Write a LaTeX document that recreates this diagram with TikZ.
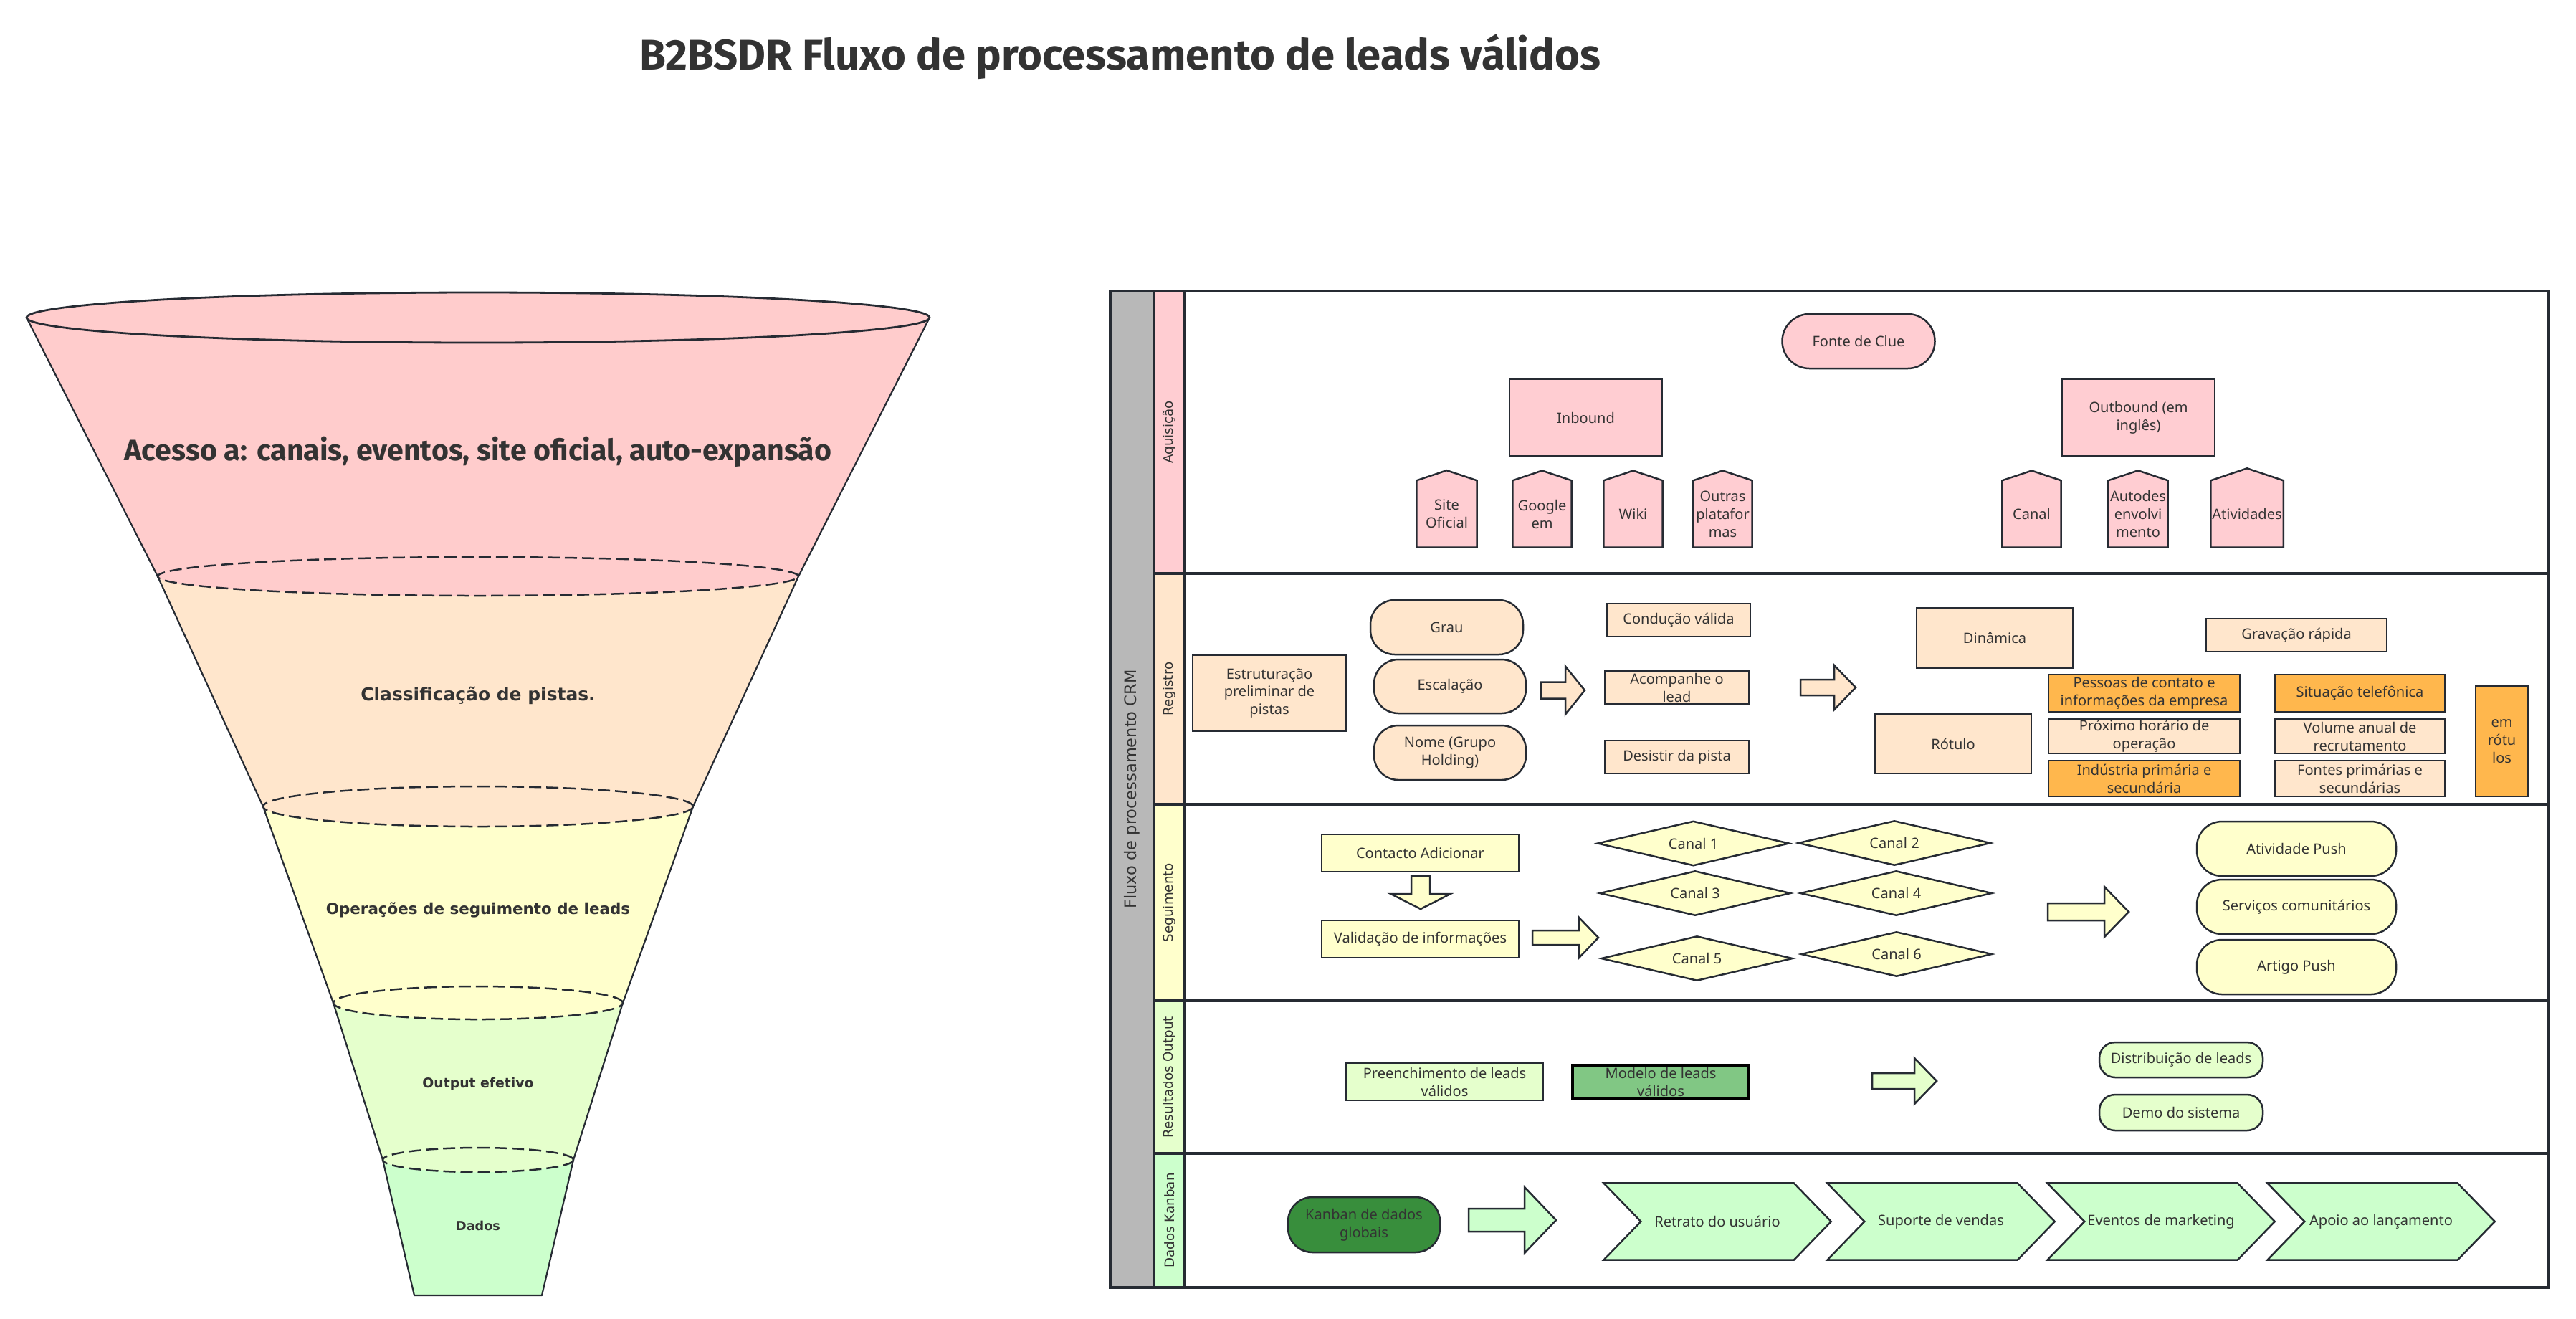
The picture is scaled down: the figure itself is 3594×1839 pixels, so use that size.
\documentclass[tikz,border=0pt]{standalone}
\usepackage{fontspec}
\setmainfont{Noto Sans}
\newfontfamily\vfont{DejaVu Sans}
\newfontfamily\bfnt{Fira Sans}
\usetikzlibrary{calc}
\definecolor{ln}{HTML}{262B33}
\definecolor{txt}{HTML}{333333}
\definecolor{fpink}{HTML}{FFCCCC}
\definecolor{lpink}{HTML}{FFCDD2}
\definecolor{peach}{HTML}{FFE6CC}
\definecolor{lyel}{HTML}{FFFFCC}
\definecolor{lgrn}{HTML}{E5FFCC}
\definecolor{grn}{HTML}{CCFFCC}
\definecolor{orng}{HTML}{FFB74D}
\definecolor{mgrn}{HTML}{81C784}
\definecolor{dgrn}{HTML}{388E3C}
\definecolor{gry}{HTML}{B8B8B8}
\pgfdeclarelayer{back}
\pgfdeclarelayer{shapes}
\pgfsetlayers{back,shapes,main}
\newcommand\nfont{\fontsize{5.7}{7.1}\selectfont}
\tikzset{
 sz/.style 2 args={minimum width=(#1)*0.1mm, minimum height=(#2)*0.1mm},
 box/.style={draw=ln, line width=0.25mm, text=txt, font=\nfont, align=center, inner sep=0pt},
 rbox/.style={box, rounded corners=3.4mm},
 shp/.style={inner sep=0pt, text=txt, font=\nfont, align=center},
 outl/.style={draw=ln, line width=0.25mm, line join=miter},
 lanel/.style={draw=ln, line width=0.4mm},
 lanelbl/.style={text=txt, font=\vfont\fontsize{5.2}{6}\selectfont, rotate=90, inner sep=0pt},
 fdash/.style={draw=ln, line width=0.25mm, dash pattern=on 1.7mm off 0.7mm},
}
\newcommand\house[5]{%
 \node[shp, sz={#3-#2}{92}] (#1) at ({(#2+#3)/2},717) {#4};
 \begin{pgfonlayer}{shapes}
 \draw[outl, fill=#5] (#1.south west) -- (#1.south east) -- (#1.north east) -- ([yshift={(#3-#2)*0.017mm}]#1.north) -- (#1.north west) -- cycle;
 \end{pgfonlayer}}
\newcommand\diam[5]{%
 \node[shp, sz={#4}{60}] (#1) at (#2,#3) {#5};
 \begin{pgfonlayer}{shapes}
 \draw[outl, fill=lyel] (#1.west) -- (#1.north) -- (#1.east) -- (#1.south) -- cycle;
 \end{pgfonlayer}}
\newcommand\chev[3]{%
 \node[shp, sz={316}{106}] (#1) at ({#2+158},1704) {#3};
 \begin{pgfonlayer}{shapes}
 \draw[outl, fill=grn] (#1.north west) -- ([xshift=-5.2mm]#1.north east) -- (#1.east) -- ([xshift=-5.2mm]#1.south east) -- (#1.south west) -- ([xshift=5.2mm]#1.west) -- cycle;
 \end{pgfonlayer}}
\newcommand\barr[7]{%
 \draw[outl, fill=#7] (#1,{#4-#5}) -- (#2,{#4-#5}) -- (#2,{#4-#6}) -- (#3,#4) -- (#2,{#4+#6}) -- (#2,{#4+#5}) -- (#1,{#4+#5}) -- cycle;}

\begin{document}
\begin{tikzpicture}[x=0.1mm,y=-0.1mm]
\useasboundingbox (0,0) rectangle (3594,1839);

% ---------- title
\node[font=\bfnt\bfseries\fontsize{17}{20}\selectfont, text=txt, anchor=base, inner sep=0pt] (title) at (1563,97) {B2BSDR Fluxo de processamento de leads válidos};

% ---------- funnel
\fill[grn] (534,1618) -- (578,1807) -- (756,1807) -- (800,1618) -- cycle;
\fill[lgrn] (465,1399) -- (534,1618) arc[start angle=180,end angle=360,x radius=13.3mm,y radius=1.7mm] -- (869,1399) -- cycle;
\fill[lyel] (367,1125) -- (465,1399) arc[start angle=180,end angle=360,x radius=20.2mm,y radius=2.3mm] -- (967,1125) -- cycle;
\fill[peach] (220,804) -- (367,1125) arc[start angle=180,end angle=360,x radius=30mm,y radius=2.8mm] -- (1114,804) -- cycle;
\fill[fpink] (37,443) -- (220,804) arc[start angle=180,end angle=360,x radius=44.7mm,y radius=2.7mm] -- (1297,443) arc[start angle=0,end angle=180,x radius=63mm,y radius=3.5mm] -- cycle;
\draw[outl, line width=0.22mm, line join=round] (37,443) -- (220,804) -- (367,1125) -- (465,1399) -- (534,1618) -- (578,1807) -- (756,1807) -- (800,1618) -- (869,1399) -- (967,1125) -- (1114,804) -- (1297,443);
\draw[outl, line width=0.28mm] (667,443) ellipse [x radius=63mm, y radius=3.5mm];
\draw[fdash] (667,804) ellipse [x radius=44.7mm, y radius=2.7mm];
\draw[fdash] (667,1125) ellipse [x radius=30mm, y radius=2.8mm];
\draw[fdash] (667,1399) ellipse [x radius=20.2mm, y radius=2.3mm];
\draw[fdash] (667,1618) ellipse [x radius=13.3mm, y radius=1.7mm];

\node[font=\bfnt\bfseries\fontsize{11.7}{13}\selectfont, text=txt, anchor=base, inner sep=0pt] (f1) at (667,642) {Acesso a: canais, eventos, site oficial, auto-expansão};
\node[font=\vfont\bfseries\fontsize{7.1}{8}\selectfont, text=txt, anchor=base, inner sep=0pt] (f2) at (667,977) {Classificação de pistas.};
\node[font=\vfont\bfseries\fontsize{6.1}{7}\selectfont, text=txt, anchor=base, inner sep=0pt] (f3) at (667,1275) {Operações de seguimento de leads};
\node[font=\vfont\bfseries\fontsize{5.35}{6}\selectfont, text=txt, anchor=base, inner sep=0pt] (f4) at (667,1517) {Output efetivo};
\node[font=\vfont\bfseries\fontsize{5}{6}\selectfont, text=txt, anchor=base, inner sep=0pt] (f5) at (667,1716) {Dados};

% ---------- swimlane frame
\begin{pgfonlayer}{back}
\fill[gry] (1549,406) rectangle (1610,1796);
\fill[lpink] (1610,406) rectangle (1653,800);
\fill[peach] (1610,800) rectangle (1653,1122);
\fill[lyel] (1610,1122) rectangle (1653,1396);
\fill[lgrn] (1610,1396) rectangle (1653,1609);
\fill[grn] (1610,1609) rectangle (1653,1796);
\draw[lanel] (1549,406) rectangle (3556,1796);
\draw[lanel] (1610,406) -- (1610,1796);
\draw[lanel] (1653,406) -- (1653,1796);
\foreach \yy in {800,1122,1396,1609} \draw[lanel] (1610,\yy) -- (3556,\yy);
\end{pgfonlayer}
\node[text=txt, font=\vfont\fontsize{6.4}{7}\selectfont, rotate=90, inner sep=0pt] (crm) at (1579.5,1101) {Fluxo de processamento CRM};
\node[lanelbl] (l1) at (1631.5,603) {Aquisição};
\node[lanelbl] (l2) at (1631.5,961) {Registro};
\node[lanelbl] (l3) at (1631.5,1259) {Seguimento};
\node[lanelbl] (l4) at (1631.5,1502.5) {Resultados Output};
\node[lanelbl] (l5) at (1631.5,1702.5) {Dados Kanban};

% ---------- Aquisicao
\node[box, fill=lpink, sz={213}{76}, rounded corners=3.8mm] (fonte) at (2593,476) {Fonte de Clue};
\node[box, fill=lpink, sz={213}{107}] (inb) at (2212.5,582.5) {Inbound};
\node[box, fill=lpink, sz={213}{107}] (outb) at (2983.5,582.5) {Outbound (em\\inglês)};
\house{site}{1977}{2060}{Site\\Oficial}{lpink}
\house{goog}{2111}{2192}{Google\\em}{lpink}
\house{wiki}{2238}{2319}{Wiki}{lpink}
\house{outr}{2363}{2444}{Outras\\platafor\\mas}{lpink}
\house{canal}{2794}{2875}{Canal}{lpink}
\house{autod}{2942}{3024}{Autodes\\envolvi\\mento}{lpink}
\house{ativ}{3085}{3185}{Atividades}{lpink}

% ---------- Registro
\node[box, fill=peach, sz={214}{106}] (estr) at (1771,967) {Estruturação\\preliminar de\\pistas};
\node[rbox, fill=peach, sz={213}{76}] (grau) at (2018.5,875) {Grau};
\node[rbox, fill=peach, sz={212}{75}] (escal) at (2023,957.5) {Escalação};
\node[rbox, fill=peach, sz={212}{76}] (nome) at (2023,1050) {Nome (Grupo\\Holding)};
\barr{2150}{2184}{2211}{963}{11.5}{33.5}{peach}
\node[box, fill=peach, sz={200}{46}] (cond) at (2342,865) {Condução válida};
\node[box, fill=peach, sz={201}{46}] (acomp) at (2339.5,959) {Acompanhe o\\lead};
\node[box, fill=peach, sz={201}{46}] (desist) at (2339.5,1056) {Desistir da pista};
\barr{2512}{2559}{2589}{959}{11}{31}{peach}
\node[box, fill=peach, sz={218}{84}] (dinam) at (2783,890) {Dinâmica};
\node[box, fill=peach, sz={218}{83}] (rotulo) at (2725,1037.5) {Rótulo};
\node[box, fill=peach, sz={252}{46}] (grav) at (3204,886) {Gravação rápida};
\node[box, fill=orng, sz={267}{52}] (pess) at (2991.5,967) {Pessoas de contato e\\informações da empresa};
\node[box, fill=peach, sz={267}{48}] (prox) at (2991.5,1027) {Próximo horário de\\operação};
\node[box, fill=orng, sz={267}{50}] (indu) at (2991.5,1086) {Indústria primária e\\secundária};
\node[box, fill=orng, sz={237}{52}] (situ) at (3292.5,967) {Situação telefônica};
\node[box, fill=peach, sz={237}{48}] (volu) at (3292.5,1027) {Volume anual de\\recrutamento};
\node[box, fill=peach, sz={237}{50}] (font) at (3292.5,1086) {Fontes primárias e\\secundárias};
\node[box, fill=orng, sz={73}{154}] (emrot) at (3490.5,1034) {em\\rótu\\los};

% ---------- Seguimento
\node[box, fill=lyel, sz={275}{52}] (cont) at (1981.5,1190) {Contacto Adicionar};
\node[box, fill=lyel, sz={275}{52}] (vali) at (1981.5,1310) {Validação de informações};
\draw[outl, fill=lyel] (1969,1222) -- (1995,1222) -- (1995,1247) -- (2023.5,1247) -- (1982,1268) -- (1940.5,1247) -- (1969,1247) -- cycle;
\barr{2138}{2203}{2230}{1308}{10}{28}{lyel}
\diam{c1}{2362.5}{1176.5}{265}{Canal 1}
\diam{c3}{2365}{1246}{264}{Canal 3}
\diam{c5}{2367.5}{1337}{265}{Canal 5}
\diam{c2}{2643}{1176}{266}{Canal 2}
\diam{c4}{2645.5}{1246}{265}{Canal 4}
\diam{c6}{2646}{1331}{264}{Canal 6}
\barr{2857}{2936}{2970}{1272}{12}{35}{lyel}
\node[rbox, fill=lyel, sz={278}{76}, rounded corners=3.5mm] (push) at (3204,1184) {Atividade Push};
\node[rbox, fill=lyel, sz={278}{76}, rounded corners=3.5mm] (serv) at (3204,1265) {Serviços comunitários};
\node[rbox, fill=lyel, sz={278}{76}, rounded corners=3.5mm] (artg) at (3204,1349) {Artigo Push};

% ---------- Resultados Output
\node[box, fill=lgrn, sz={275}{52}] (pree) at (2015.5,1509) {Preenchimento de leads\\válidos};
\node[box, fill=mgrn, sz={246}{46}, draw=black, line width=0.35mm] (mode) at (2317,1509) {Modelo de leads\\válidos};
\barr{2612}{2671}{2702}{1508}{11}{32}{lgrn}
\node[box, fill=lgrn, sz={228}{49}, rounded corners=2.2mm] (dist) at (3043,1478.5) {Distribuição de leads};
\node[box, fill=lgrn, sz={228}{50}, rounded corners=2.2mm] (demo) at (3043,1552) {Demo do sistema};

% ---------- Dados Kanban
\node[box, fill=dgrn, sz={212}{77}, rounded corners=3.4mm] (kanb) at (1903,1708.5) {Kanban de dados\\globais};
\barr{2049}{2127}{2171}{1702}{16}{46}{grn}
\chev{ch1}{2238}{Retrato do usuário}
\chev{ch2}{2550}{Suporte de vendas}
\chev{ch3}{2857}{Eventos de marketing}
\chev{ch4}{3164}{Apoio ao lançamento}
\end{tikzpicture}
\end{document}
